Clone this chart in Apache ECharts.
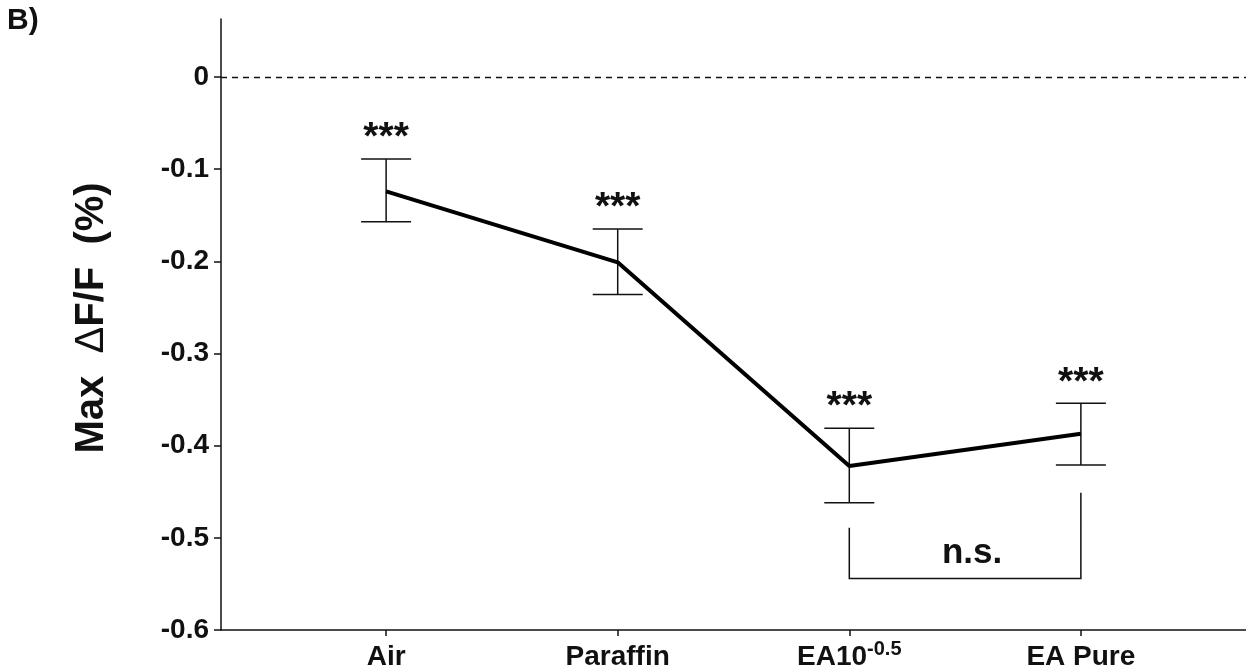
<!DOCTYPE html>
<html>
<head>
<meta charset="utf-8">
<script src="https://cdn.jsdelivr.net/npm/echarts@6/dist/echarts.min.js"></script>
<style>
  html, body { margin: 0; padding: 0; background: #fff; }
  #chart { width: 1246px; height: 672px; }
</style>
</head>
<body>
<div id="chart"></div>
<script>
// categories on the x axis (positions 1..4)
const categories = ['Air', 'Paraffin', 'EA10^-0.5', 'EA Pure'];
const positions = [1, 2, 3, 4];
// mean Max dF/F and the ends of the error bars
const means = [-0.124, -0.201, -0.422, -0.387];
const upper = [-0.089, -0.165, -0.381, -0.354];
const lower = [-0.157, -0.236, -0.462, -0.421];
const stars = ['***', '***', '***', '***'];
// y tick labels
const yTicks = [-0.6, -0.5, -0.4, -0.3, -0.2, -0.1, 0];
// n.s. bracket between EA10^-0.5 and EA Pure: [from, to, leftTop, rightTop, bottom]
const bracket = [3, 4, -0.489, -0.451, -0.544];
const bracketText = 'n.s.';

const FONT = 'Arial, "Liberation Sans", Helvetica, sans-serif';
const INK = '#111';

const chart = echarts.init(document.getElementById('chart'));

const errData = positions.map((p, i) => [p, upper[i], lower[i], stars[i]]);

const option = {
  animation: false,
  backgroundColor: '#fff',
  grid: { left: 221, right: 0, top: 19, bottom: 42, outerBoundsMode: 'none' },
  xAxis: {
    type: 'value',
    min: 0.287,
    max: 4.713,
    splitLine: { show: false },
    axisLine: { onZero: false, lineStyle: { color: INK, width: 1.5 } },
    axisTick: { customValues: positions, length: 6, lineStyle: { color: INK, width: 1.5 } },
    axisLabel: {
      customValues: positions,
      margin: 9,
      color: INK,
      fontFamily: FONT,
      fontWeight: 'bold',
      fontSize: 28,
      formatter: v => {
        const name = categories[Math.round(v) - 1] || '';
        if (name.indexOf('^') >= 0) {
          const parts = name.split('^');
          return '{b|' + parts[0] + '}{sup|' + parts[1] + '}';
        }
        return '{b|' + name + '}';
      },
      rich: {
        b: { fontFamily: FONT, fontWeight: 'bold', fontSize: 28, lineHeight: 32, color: INK, verticalAlign: 'bottom' },
        sup: { fontFamily: FONT, fontWeight: 'bold', fontSize: 20, color: INK, verticalAlign: 'top', padding: [0, 0, 12, 0] }
      }
    }
  },
  yAxis: {
    type: 'value',
    min: -0.6,
    max: 0.063,
    splitLine: { show: false },
    axisLine: { onZero: false, lineStyle: { color: INK, width: 1.5 } },
    axisTick: { customValues: yTicks, length: 7, lineStyle: { color: INK, width: 1.5 } },
    axisLabel: {
      customValues: yTicks,
      margin: 12,
      color: INK,
      fontFamily: FONT,
      fontWeight: 'bold',
      fontSize: 28,
      formatter: v => (Math.abs(v) < 1e-9 ? '0' : v.toFixed(1))
    }
  },
  graphic: [
    {
      type: 'text', left: 7, top: 6,
      style: { text: 'B)', fontFamily: FONT, fontWeight: 'bold', fontSize: 30, fill: INK }
    },
    {
      type: 'text', x: 92, y: 318, rotation: Math.PI / 2,
      style: {
        text: '{b|Max  }{d|Δ}{b|F/F  (%)}',
        align: 'center', verticalAlign: 'middle',
        rich: {
          b: { fontFamily: FONT, fontWeight: 'bold', fontSize: 40, fill: INK },
          d: { fontFamily: FONT, fontWeight: 'normal', fontSize: 40, fill: INK }
        }
      }
    }
  ],
  series: [
    {
      type: 'line',
      data: positions.map((p, i) => [p, means[i]]),
      showSymbol: false,
      symbol: 'none',
      lineStyle: { color: '#000', width: 4 },
      z: 3,
      markLine: {
        silent: true,
        symbol: 'none',
        label: { show: false },
        lineStyle: { color: INK, width: 1.3, type: [6, 5] },
        data: [{ yAxis: 0 }]
      }
    },
    {
      type: 'custom',
      data: errData,
      z: 2,
      renderItem: (params, api) => {
        const x = api.value(0);
        const hi = api.coord([x, api.value(1)]);
        const lo = api.coord([x, api.value(2)]);
        const cap = 25;
        const ls = { stroke: INK, lineWidth: 1.5 };
        return {
          type: 'group',
          children: [
            { type: 'line', shape: { x1: hi[0], y1: hi[1], x2: lo[0], y2: lo[1] }, style: ls },
            { type: 'line', shape: { x1: hi[0] - cap, y1: hi[1], x2: hi[0] + cap, y2: hi[1] }, style: ls },
            { type: 'line', shape: { x1: lo[0] - cap, y1: lo[1], x2: lo[0] + cap, y2: lo[1] }, style: ls },
            {
              type: 'text', x: hi[0], y: hi[1] - 1,
              style: {
                text: stars[params.dataIndex], fontFamily: FONT, fontWeight: 'bold', fontSize: 39,
                fill: INK, align: 'center', verticalAlign: 'bottom'
              }
            }
          ]
        };
      }
    },
    {
      type: 'custom',
      data: [bracket],
      z: 2,
      renderItem: (params, api) => {
        const a = api.coord([api.value(0), api.value(2)]);
        const b = api.coord([api.value(1), api.value(3)]);
        const c = api.coord([api.value(0), api.value(4)]);
        const d = api.coord([api.value(1), api.value(4)]);
        const ls = { stroke: INK, lineWidth: 1.5, fill: null };
        return {
          type: 'group',
          children: [
            { type: 'polyline', shape: { points: [a, c, d, b] }, style: ls },
            {
              type: 'text', x: (c[0] + d[0]) / 2 + 7, y: c[1] - 8,
              style: {
                text: bracketText, fontFamily: FONT, fontWeight: 'bold', fontSize: 35,
                fill: INK, align: 'center', verticalAlign: 'bottom'
              }
            }
          ]
        };
      }
    }
  ]
};

chart.setOption(option);
</script>
</body>
</html>
